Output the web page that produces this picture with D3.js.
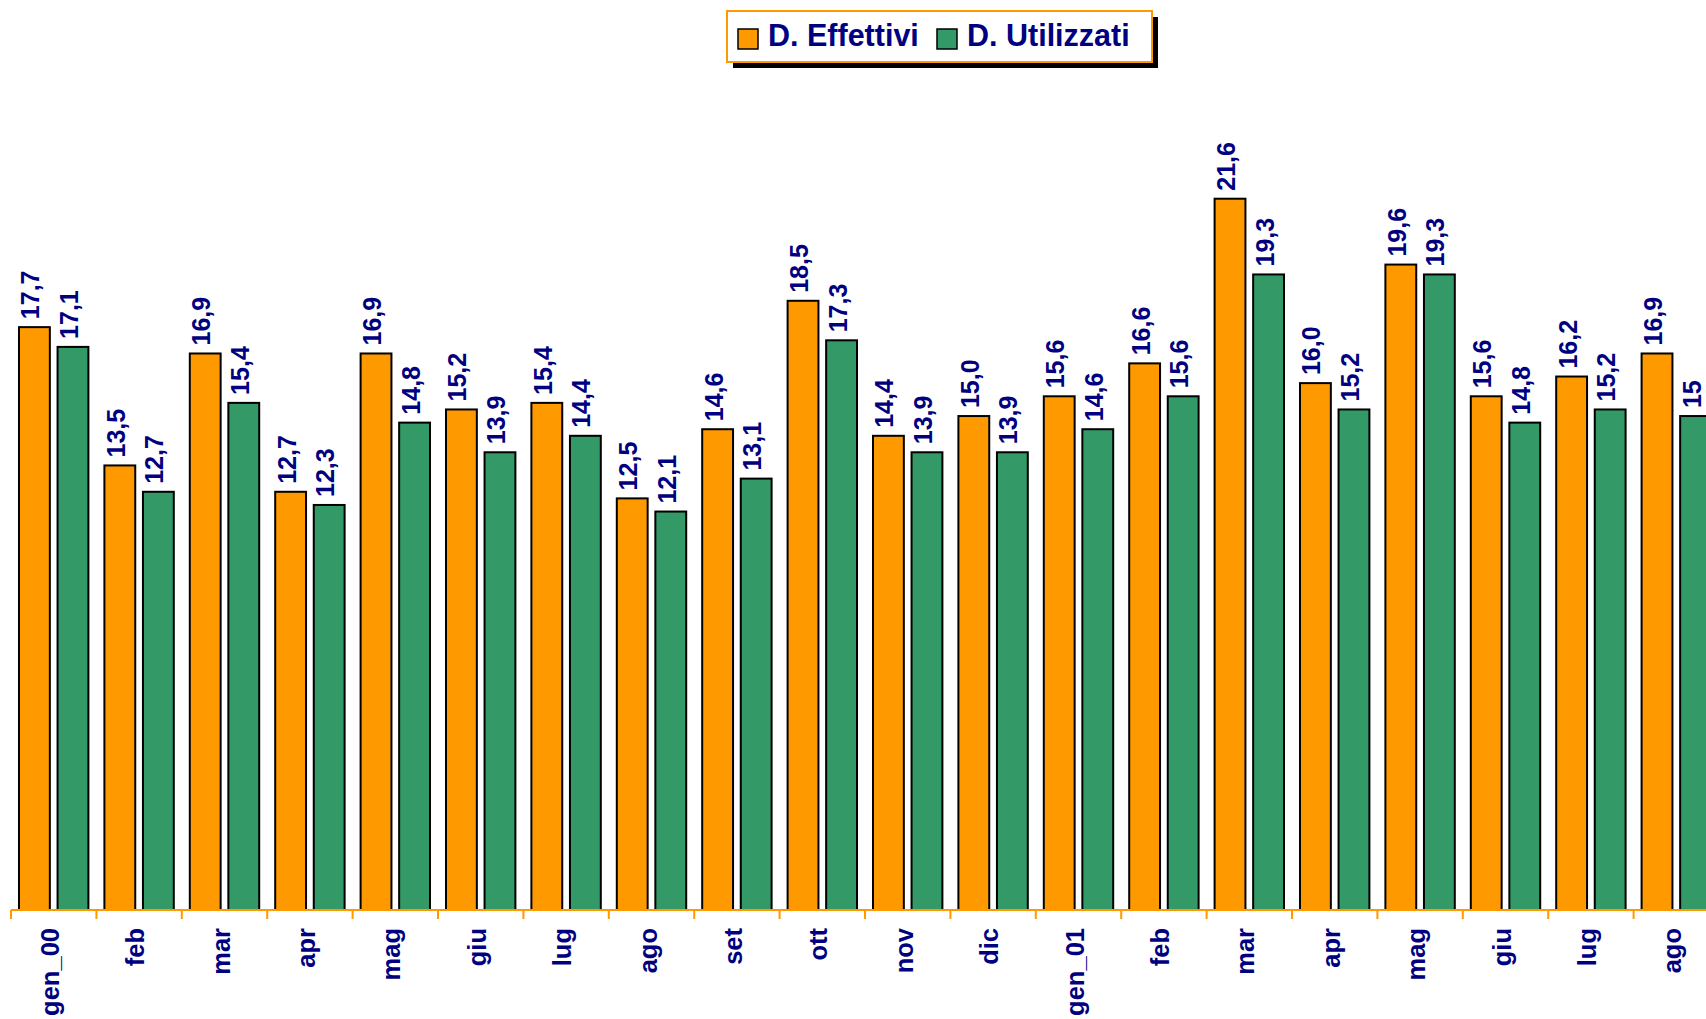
<!DOCTYPE html>
<html>
<head>
<meta charset="utf-8">
<script src="https://cdn.jsdelivr.net/npm/d3@7"></script>
<style>
    html, body { margin: 0; padding: 0; background: #fff; overflow: hidden; }
    svg { display: block; font-family: "Liberation Sans", Arial, sans-serif; font-weight: bold; }
</style>
</head>
<body>
<svg id="chart" width="1706" height="1019"></svg>
<script>
// months shown (the original chart keeps going past the right edge)
const months = ['gen_00', 'feb', 'mar', 'apr', 'mag', 'giu', 'lug', 'ago', 'set', 'ott',
    'nov', 'dic', 'gen_01', 'feb', 'mar', 'apr', 'mag', 'giu', 'lug', 'ago'];

const effettivi = [17.7, 13.5, 16.9, 12.7, 16.9, 15.2, 15.4, 12.5, 14.6, 18.5,
    14.4, 15.0, 15.6, 16.6, 21.6, 16.0, 19.6, 15.6, 16.2, 16.9];
const utilizzati = [17.1, 12.7, 15.4, 12.3, 14.8, 13.9, 14.4, 12.1, 13.1, 17.3,
    13.9, 13.9, 14.6, 15.6, 19.3, 15.2, 19.3, 14.8, 15.2, 15.0];

const seriesNames = ['D. Effettivi', 'D. Utilizzati'];
const seriesColors = ['#ff9900', '#339966'];

const Chart = new function () {

    const svg = d3.select('#chart');
    const textColor = '#000080';
    const axisColor = '#ff9900';

    const baseY = 910;
    const step = 85.4;
    const left = 11;

    // month index as band key, labels repeat
    const x = d3.scaleBand()
        .domain(d3.range(months.length))
        .range([left, left + step * months.length])
        .paddingInner(0)
        .paddingOuter(0);

    const inner = d3.scaleBand()
        .domain([0, 1])
        .range([8, step - 8])
        .paddingInner(0.2)
        .paddingOuter(0);

    const y = d3.scaleLinear()
        .domain([0, 25])
        .range([baseY, baseY - 25 * 32.93]);

    const fmt = v => d3.format('.1f')(v).replace('.', ',');

    this.drawBars = function () {
        const data = [effettivi, utilizzati];
        data.forEach((values, s) => {
            const g = svg.append('g');
            g.selectAll('rect')
                .data(values)
                .join('rect')
                .attr('x', (d, i) => x(i) + inner(s))
                .attr('y', d => y(d))
                .attr('width', inner.bandwidth())
                .attr('height', d => y(0) - y(d))
                .attr('fill', seriesColors[s])
                .attr('stroke', '#000')
                .attr('stroke-width', 2);

            g.selectAll('text')
                .data(values)
                .join('text')
                .attr('transform', (d, i) => {
                    const cx = x(i) + inner(s) + inner.bandwidth() / 2 + 5;
                    return `translate(${cx},${y(d) - 8}) rotate(-90)`;
                })
                .attr('text-anchor', 'start')
                .attr('fill', textColor)
                .attr('font-size', 25)
                // the last label is cut to "15" in the source picture
                .text((d, i) => (s === 1 && i === values.length - 1) ? '15' : fmt(d));
        });
    };

    this.drawAxis = function () {
        const g = svg.append('g');
        g.append('line')
            .attr('x1', left)
            .attr('x2', 1706)
            .attr('y1', baseY)
            .attr('y2', baseY)
            .attr('stroke', axisColor)
            .attr('stroke-width', 2);

        g.selectAll('.tick')
            .data(d3.range(months.length + 1))
            .join('line')
            .attr('class', 'tick')
            .attr('x1', i => left + step * i)
            .attr('x2', i => left + step * i)
            .attr('y1', baseY)
            .attr('y2', baseY + 9)
            .attr('stroke', axisColor)
            .attr('stroke-width', 2);

        g.selectAll('text')
            .data(months)
            .join('text')
            .attr('transform', (d, i) => `translate(${x(i) + step / 2 + 5},${928}) rotate(-90)`)
            .attr('text-anchor', 'end')
            .attr('fill', textColor)
            .attr('font-size', 25.5)
            .text(d => d);
    };

    this.drawLegend = function () {
        const g = svg.append('g');
        g.append('rect')
            .attr('x', 733)
            .attr('y', 17)
            .attr('width', 425)
            .attr('height', 51)
            .attr('fill', '#000');
        g.append('rect')
            .attr('x', 727)
            .attr('y', 11)
            .attr('width', 425)
            .attr('height', 51)
            .attr('fill', '#fff')
            .attr('stroke', axisColor)
            .attr('stroke-width', 2);

        const items = [{sx: 738, tx: 768}, {sx: 937, tx: 967}];
        seriesNames.forEach((name, i) => {
            g.append('rect')
                .attr('x', items[i].sx)
                .attr('y', 29)
                .attr('width', 20)
                .attr('height', 20)
                .attr('fill', seriesColors[i])
                .attr('stroke', '#000')
                .attr('stroke-width', 1.5);
            g.append('text')
                .attr('x', items[i].tx)
                .attr('y', 46)
                .attr('fill', textColor)
                .attr('font-size', 30.5)
                .text(name);
        });
    };

    this.init = function () {
        this.drawBars();
        this.drawAxis();
        this.drawLegend();
    };
};

Chart.init();
</script>
</body>
</html>
